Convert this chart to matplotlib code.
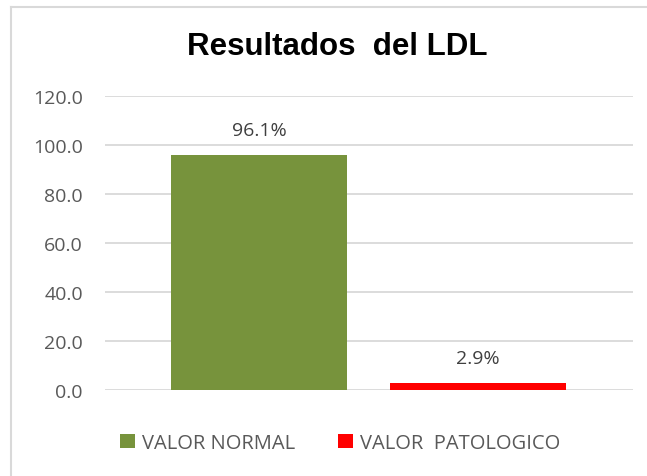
import matplotlib
matplotlib.use("Agg")
import matplotlib.pyplot as plt
from matplotlib.patches import Patch
from matplotlib.lines import Line2D

categories = ["VALOR NORMAL", "VALOR  PATOLOGICO"]
values = [96.1, 2.9]
labels = ["96.1%", "2.9%"]
colors = ["#77933C", "#FF0000"]
yticks = [0, 20, 40, 60, 80, 100, 120]

fig = plt.figure(figsize=(6.47, 4.77), dpi=100)
ax = fig.add_axes([105/647, 1-391/477, (633-105)/647, (391-97)/477])

x = list(range(len(categories)))
ax.bar(x, values, width=0.804, color=colors, zorder=3)
ax.set_xlim(-0.703, 1.708)
ax.set_ylim(0, 120)
ax.set_yticks(yticks)
ax.set_yticklabels([f"{t:.1f}" for t in yticks], fontfamily="Open Sans", fontsize=14, color="#595959")
ax.set_xticks([])
ax.tick_params(axis="y", length=0, pad=16)
ax.grid(axis="y", color="#D9D9D9", linewidth=1.3, zorder=0)
for s in ax.spines.values():
    s.set_visible(False)

for xi, v, lab in zip(x, values, labels):
    ax.annotate(lab, (xi, v), xytext=(0, 18), textcoords="offset points",
                ha="center", va="center", fontfamily="Open Sans", fontsize=14, color="#404040")

fig.text(337/647, 1-47/477, "Resultados  del LDL", ha="center", va="center",
         fontfamily="Liberation Sans", fontweight="bold", fontsize=22.5, color="black")

handles = [Patch(facecolor=c, edgecolor="none") for c in colors]
leg = fig.legend(handles, categories, loc="center", bbox_to_anchor=(340/647, 1-444/477), ncol=2,
                 frameon=False, handlelength=0.75, handleheight=0.75, handletextpad=0.35,
                 columnspacing=2.1, prop={"family": "Open Sans", "size": 14.5})
for t in leg.get_texts():
    t.set_color("#595959")

# outer frame (left and top edges visible)
fig.add_artist(Line2D([11/647, 11/647], [0, 1-8/477], transform=fig.transFigure, color="#D9D9D9", linewidth=1.5))
fig.add_artist(Line2D([11/647, 1], [1-8/477, 1-8/477], transform=fig.transFigure, color="#D9D9D9", linewidth=1.5))

fig.savefig("out.png", dpi=100, facecolor="white")
